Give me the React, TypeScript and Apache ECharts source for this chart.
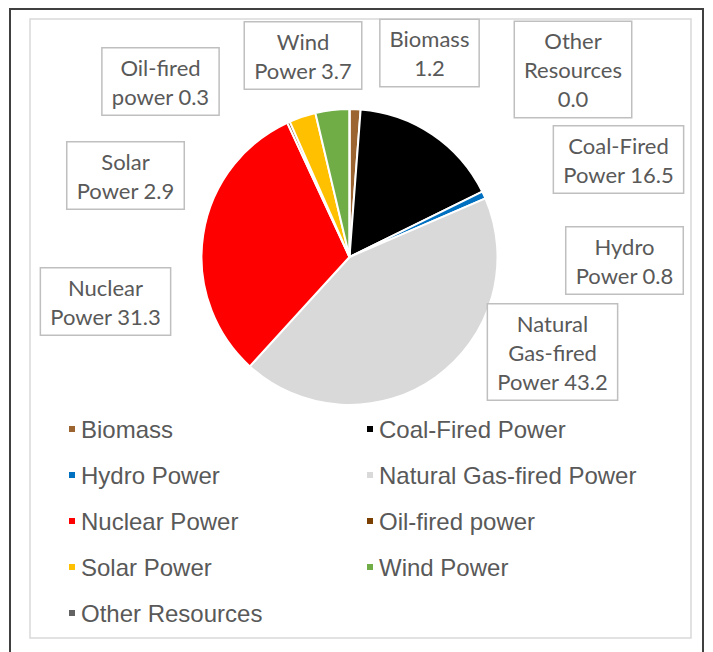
import React, { useEffect, useRef } from "react";
import * as echarts from "echarts";

const categories = [
  "Biomass",
  "Coal-Fired Power",
  "Hydro Power",
  "Natural Gas-fired Power",
  "Nuclear Power",
  "Oil-fired power",
  "Solar Power",
  "Wind Power",
  "Other Resources",
];
const values = [1.2, 16.5, 0.8, 43.2, 31.3, 0.3, 2.9, 3.7, 0.0];
const labelTexts = [
  "Biomass\n",
  "Coal-Fired\nPower ",
  "Hydro\nPower ",
  "Natural\nGas-fired\nPower ",
  "Nuclear\nPower ",
  "Oil-fired\npower ",
  "Solar\nPower ",
  "Wind\nPower ",
  "Other\nResources\n",
];
const colors = [
  "#9C6430",
  "#000000",
  "#0070C0",
  "#D9D9D9",
  "#FF0000",
  "#7B3F00",
  "#FFC000",
  "#70AD47",
  "#636363",
];
const leftLegend = ["Biomass", "Hydro Power", "Nuclear Power", "Solar Power", "Other Resources"];
const rightLegend = ["Coal-Fired Power", "Natural Gas-fired Power", "Oil-fired power", "Wind Power"];

// label box centres (layout only)
const labelPos: [number, number][] = [
  [429.5, 53],
  [618.5, 159.5],
  [624.5, 260.5],
  [552.5, 352],
  [105.5, 301.5],
  [160.5, 81.5],
  [125.5, 175.5],
  [303, 55.5],
  [573, 69.5],
];

export default function App() {
  const ref = useRef<HTMLDivElement>(null);
  useEffect(() => {
    if (!ref.current) return;
    const chart = echarts.init(ref.current, undefined, { renderer: "svg" });
    const legendCommon = {
      orient: "vertical",
      icon: "rect",
      itemWidth: 8,
      itemHeight: 8,
      itemGap: 20,
      padding: 0,
      textStyle: {
        fontFamily: "Arial, 'Liberation Sans', sans-serif",
        fontSize: 24,
        color: "#595959",
        lineHeight: 26,
      },
      selectedMode: false,
    };
    chart.setOption({
      animation: false,
      backgroundColor: "#ffffff",
      color: colors,
      graphic: [
        {
          type: "rect",
          shape: { x: 10, y: 9, width: 693, height: 660 },
          style: { fill: "none", stroke: "#404040", lineWidth: 2 },
          silent: true,
        },
        {
          type: "rect",
          shape: { x: 30, y: 19, width: 661, height: 619 },
          style: { fill: "none", stroke: "#D9D9D9", lineWidth: 1.5 },
          silent: true,
        },
      ],
      legend: [
        { ...legendCommon, left: 67, top: 416, data: leftLegend },
        { ...legendCommon, left: 365, top: 416, data: rightLegend },
      ],
      series: [
        {
          type: "pie",
          center: [349.5, 257],
          radius: 148,
          startAngle: 90,
          clockwise: true,
          avoidLabelOverlap: false,
          itemStyle: { borderColor: "#ffffff", borderWidth: 2 },
          label: {
            show: true,
            formatter: (p: any) => labelTexts[p.dataIndex] + Number(p.value).toFixed(1),
            fontFamily: "Lato, sans-serif",
            fontSize: 22,
            lineHeight: 29,
            color: "#595959",
            align: "center",
            verticalAlign: "middle",
            backgroundColor: "#ffffff",
            borderColor: "#BFBFBF",
            borderWidth: 1.5,
            padding: [4, 9, 4, 9],
          },
          labelLine: { show: false },
          labelLayout: (params: any) => {
            const pos = labelPos[params.dataIndex];
            return { x: pos[0], y: pos[1], align: "center", verticalAlign: "middle" };
          },
          emphasis: { disabled: true },
          data: categories.map((name, i) => ({ name, value: values[i] })),
        },
      ],
    });
    return () => chart.dispose();
  }, []);
  return (
    <div
      ref={ref}
      style={{ position: "fixed", left: 0, top: 0, width: 713, height: 652 }}
    />
  );
}
